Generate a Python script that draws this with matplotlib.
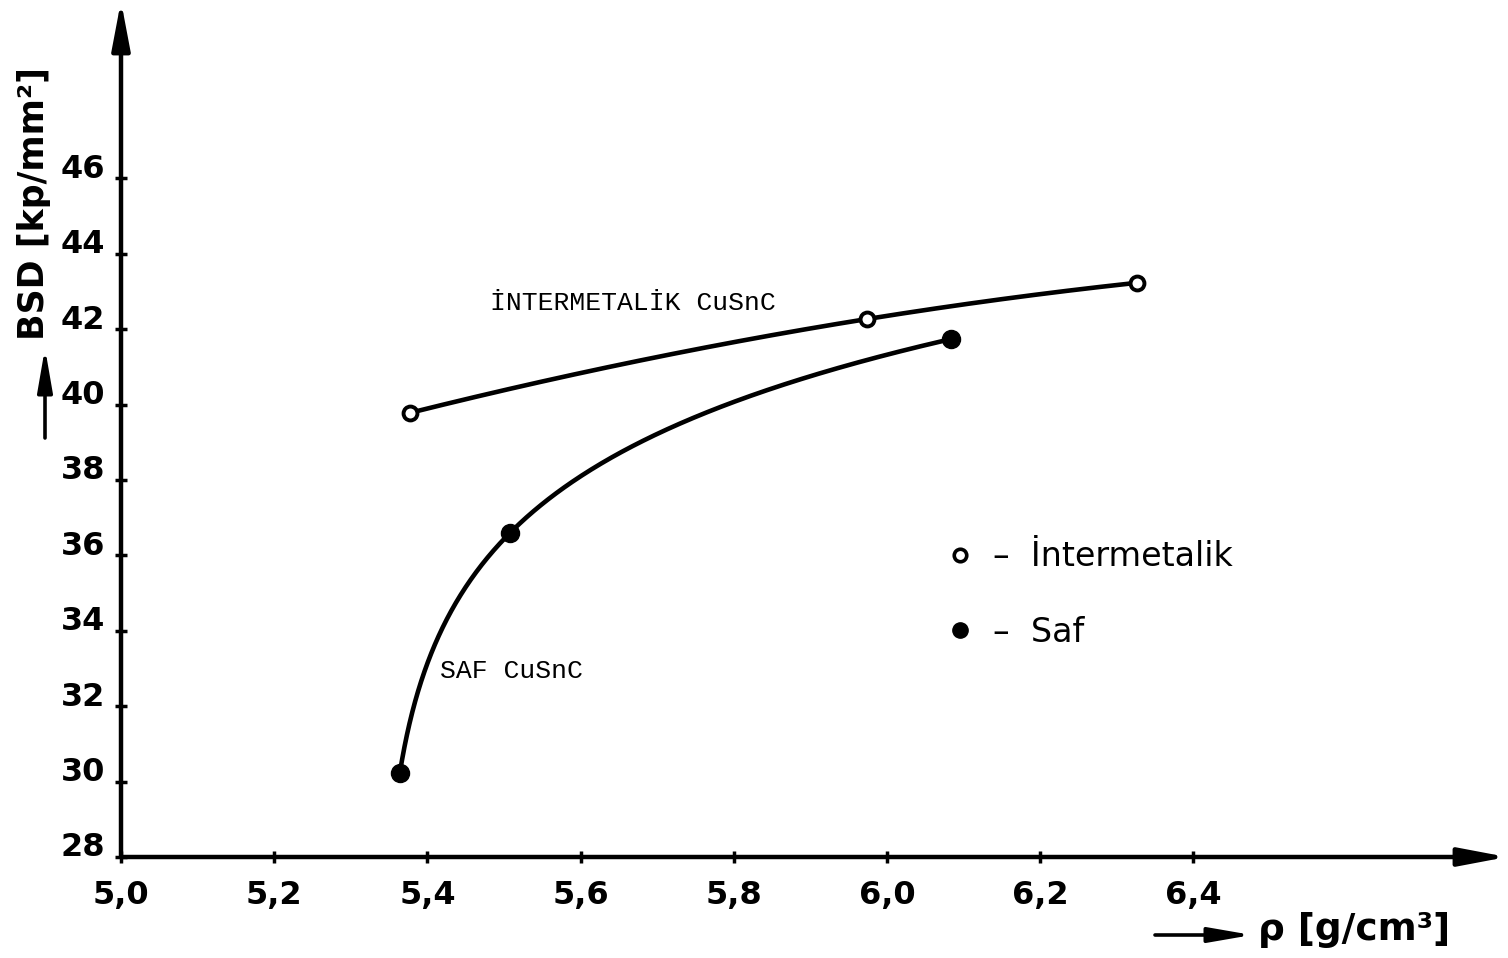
import numpy as np
import matplotlib
matplotlib.use("Agg")
import matplotlib.pyplot as plt
from matplotlib.patches import FancyArrowPatch
from matplotlib.transforms import ScaledTranslation
from matplotlib.lines import Line2D

# Density rho [g/cm3] versus bending strength BSD [kp/mm2]
inter_rho = [5.377, 5.974, 6.326]
inter_bsd = [39.78, 42.27, 43.23]
saf_rho = [5.364, 5.508, 6.084]
saf_bsd = [30.23, 36.60, 41.74]

x_ticks = [5.0, 5.2, 5.4, 5.6, 5.8, 6.0, 6.2, 6.4]
x_tick_labels = ["5,0", "5,2", "5,4", "5,6", "5,8", "6,0", "6,2", "6,4"]
y_ticks = [28, 30, 32, 34, 36, 38, 40, 42, 44, 46]
y_tick_labels = ["28", "30", "32", "34", "36", "38", "40", "42", "44", "46"]

W, H = 1508, 958
fig = plt.figure(figsize=(W / 100, H / 100), dpi=100)
fig.patch.set_facecolor("white")

# axes box in pixels (left/right, bottom/top measured from the top edge)
left_px, right_px = 121, 1507
bottom_px, top_px = 857, 1
ax = fig.add_axes([left_px / W, (H - bottom_px) / H,
                   (right_px - left_px) / W, (bottom_px - top_px) / H])
px_per_x = 766.0
px_per_y = 37.7
ax.set_xlim(5.0, 5.0 + (right_px - left_px) / px_per_x)
ax.set_ylim(28.0, 28.0 + (bottom_px - top_px) / px_per_y)
ax.set_facecolor("white")
for s in ax.spines.values():
    s.set_visible(False)

# axis lines with arrow heads
arrow_kw = dict(arrowstyle="-|>,head_length=2.9,head_width=0.55",
                lw=3.2, color="black", shrinkA=0, shrinkB=0, mutation_scale=10)
ax.annotate("", xy=(0, 1), xytext=(0, 0), xycoords="axes fraction",
            textcoords="axes fraction", arrowprops=arrow_kw, annotation_clip=False)
ax.annotate("", xy=(1, 0), xytext=(0, 0), xycoords="axes fraction",
            textcoords="axes fraction", arrowprops=arrow_kw, annotation_clip=False)

# ticks
tick_font = dict(fontsize=23, fontweight="bold", family="DejaVu Sans")
ax.set_xticks(x_ticks)
ax.set_xticklabels(x_tick_labels, **tick_font)
ax.set_yticks(y_ticks)
ax.set_yticklabels(y_tick_labels, **tick_font)
ax.tick_params(axis="both", direction="inout", length=9, width=2.5, color="black")
ax.tick_params(axis="y", pad=7)
ax.tick_params(axis="x", pad=12)
for lab in ax.get_yticklabels():
    lab.set_transform(lab.get_transform() + ScaledTranslation(0, 9 / 72, fig.dpi_scale_trans))

# smooth curve through the Intermetalik points (quadratic)
ci = np.polyfit(inter_rho, inter_bsd, 2)
xi = np.linspace(inter_rho[0], inter_rho[-1], 200)
ax.plot(xi, np.polyval(ci, xi), color="black", lw=3.3, solid_capstyle="round", zorder=2)

# logarithmic curve y = a + b*ln(x - c) through the Saf points
x1, x2, x3 = saf_rho
y1, y2, y3 = saf_bsd
target = (y2 - y1) / (y3 - y1)
lo, hi = x1 - 2.0, x1 - 1e-9
for _ in range(200):
    c = 0.5 * (lo + hi)
    r = np.log((x2 - c) / (x1 - c)) / np.log((x3 - c) / (x1 - c))
    if r < target:
        lo = c
    else:
        hi = c
b = (y3 - y1) / np.log((x3 - c) / (x1 - c))
a = y1 - b * np.log(x1 - c)
xs = x1 + (x3 - x1) * np.linspace(0, 1, 600) ** 2
ax.plot(xs, a + b * np.log(xs - c), color="black", lw=3.3, solid_capstyle="round", zorder=2)

# data points
ax.plot(inter_rho, inter_bsd, ls="none", marker="o", ms=10, mfc="white",
        mec="black", mew=2.8, zorder=3)
ax.plot(saf_rho, saf_bsd, ls="none", marker="o", ms=13, mfc="black",
        mec="black", mew=1, zorder=3)

# curve labels
mono = dict(family="Liberation Mono", fontsize=19, color="black")
fig.text(633 / W, 1 - 303 / H, "İNTERMETALİK CuSnC", ha="center", va="center", **mono)
fig.text(511 / W, 1 - 671 / H, "SAF CuSnC", ha="center", va="center", **mono)

# legend
handles = [Line2D([], [], ls="none", marker="o", ms=9, mfc="white", mec="black", mew=2.6),
           Line2D([], [], ls="none", marker="o", ms=11, mfc="black", mec="black")]
ax.legend(handles, ["–  İntermetalik", "–  Saf"], loc="upper left",
          bbox_to_anchor=(930 / W, 1 - 527 / H), bbox_transform=fig.transFigure,
          frameon=False, prop=dict(family="DejaVu Sans", size=24),
          handlelength=1.0, handletextpad=0.5, labelspacing=1.28, borderaxespad=0)

# axis titles with their arrows
ax.set_ylabel("BSD [kp/mm²]", fontsize=25, fontweight="bold", rotation=90,
              va="center", ha="center")
ax.yaxis.set_label_coords((34 - left_px) / (right_px - left_px),
                          (bottom_px - 203) / (bottom_px - top_px))
ax.set_xlabel("ρ [g/cm³]", fontsize=27, fontweight="bold", ha="left", va="center")
ax.xaxis.set_label_coords((1258 - left_px) / (right_px - left_px),
                          (bottom_px - 930) / (bottom_px - top_px))

small_arrow = dict(arrowstyle="-|>,head_length=2.6,head_width=0.45",
                   lw=2.6, color="black", mutation_scale=10,
                   shrinkA=0, shrinkB=0, transform=fig.transFigure)
fig.add_artist(FancyArrowPatch((45 / W, 1 - 438 / H), (45 / W, 1 - 348 / H), **small_arrow))
fig.add_artist(FancyArrowPatch((1155 / W, 1 - 935 / H), (1252 / W, 1 - 935 / H), **small_arrow))

fig.savefig("out.png", dpi=100, facecolor="white")
